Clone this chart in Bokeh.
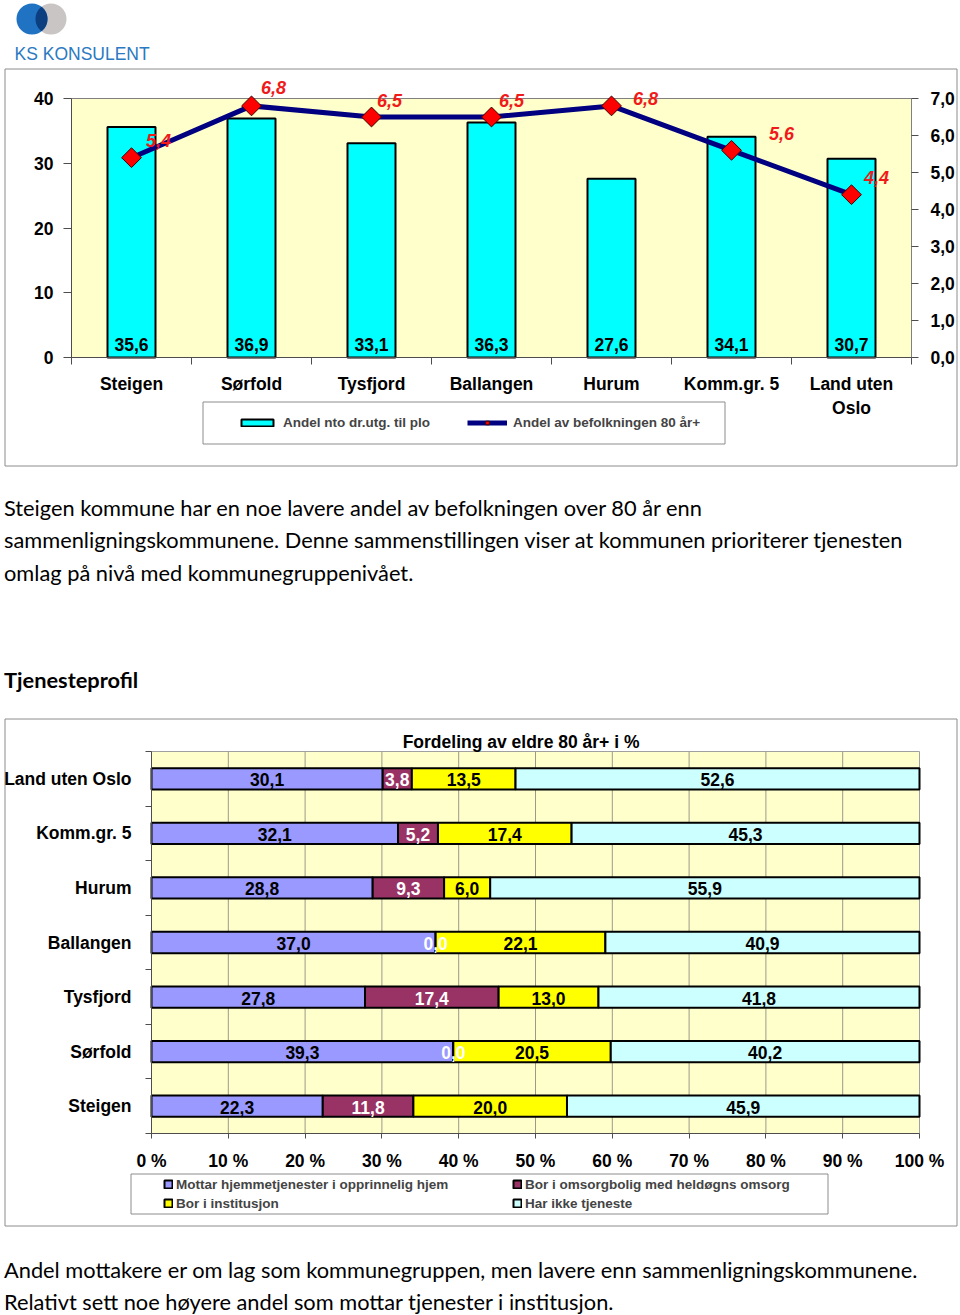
import numpy as np
from bokeh.plotting import figure
from bokeh.models import (ColumnDataSource, Range1d, LinearAxis, FixedTicker, Legend, LegendItem, Div)
from bokeh.layouts import column
from bokeh.embed import file_html
from bokeh.resources import INLINE
from bokeh.core.properties import value

# ---------------- data ----------------
kommuner = ["Steigen", "Sørfold", "Tysfjord", "Ballangen", "Hurum", "Komm.gr. 5", "Land uten Oslo"]
kommune_labels_top = ["Steigen", "Sørfold", "Tysfjord", "Ballangen", "Hurum", "Komm.gr. 5", "Land uten\nOslo"]
andel_plo = [35.6, 36.9, 33.1, 36.3, 27.6, 34.1, 30.7]      # Andel nto dr.utg. til plo
andel_80 = [5.4, 6.8, 6.5, 6.5, 6.8, 5.6, 4.4]              # Andel av befolkningen 80 år+
left_ticks = [0, 10, 20, 30, 40]
right_ticks = [0, 1, 2, 3, 4, 5, 6, 7]

hjem = [22.3, 39.3, 27.8, 37.0, 28.8, 32.1, 30.1]      # Mottar hjemmetjenester i opprinnelig hjem
omsorg = [11.8, 0.0, 17.4, 0.0, 9.3, 5.2, 3.8]         # Bor i omsorgbolig med heldøgns omsorg
inst = [20.0, 20.5, 13.0, 22.1, 6.0, 17.4, 13.5]       # Bor i institusjon
ingen = [45.9, 40.2, 41.8, 40.9, 55.9, 45.3, 52.6]     # Har ikke tjeneste
pct_ticks = [0, 10, 20, 30, 40, 50, 60, 70, 80, 90, 100]

series_names = ["Mottar hjemmetjenester i opprinnelig hjem", "Bor i omsorgbolig med heldøgns omsorg",
                "Bor i institusjon", "Har ikke tjeneste"]
legend_order = [0, 2, 1, 3]       # legend is filled column by column
bot_title = "Fordeling av eldre 80 år+  i %"

para1 = ["Steigen kommune har en noe lavere andel av befolkningen over 80 år enn",
         "sammenligningskommunene. Denne sammenstillingen viser at kommunen prioriterer tjenesten",
         "omlag på nivå med kommunegruppenivået."]
heading = "Tjenesteprofil"
para2 = ["Andel mottakere er om lag som kommunegruppen, men lavere enn sammenligningskommunene.",
         "Relativt sett noe høyere andel som mottar tjenester i institusjon."]

# ---------------- styles ----------------
FONT = "Liberation Sans"
FS = "17.5px"
W = 960
YELLOW_BG = "#FFFFCC"
BOX_GRAY = "#8c8c8c"
AX_COL = "#4d4d4d"
seg_colors = ["#9999FF", "#993366", "#FFFF00", "#CCFFFF"]
seg_text_colors = ["black", "white", "black", "black"]
lbl_dx = [27, 22, 18, 20, 34, 50, 25]
lbl_dy = [-17, -18, -17, -17, -7, -17, -17]

n = len(kommuner)
pos = np.arange(n) + 0.5          # slot centres on the category axis
bounds = list(range(n + 1))       # slot boundaries (tick marks)


def fmt(v):
    return f"{v:.1f}".replace(".", ",")


def style_axis(ax, size=FS):
    ax.major_label_text_font = FONT
    ax.major_label_text_font_style = "bold"
    ax.major_label_text_font_size = size
    ax.major_label_text_color = "black"
    ax.axis_line_color = AX_COL
    ax.major_tick_line_color = AX_COL
    ax.minor_tick_line_color = None
    ax.major_tick_in = 0


def span(p0, p1, v0, v1, size):
    """data range that maps pixel p0->v0, p1->v1 over a canvas of `size` px."""
    k = (v1 - v0) / (p1 - p0)
    return v0 - p0 * k, v0 + (size - p0) * k


def full_frame_fig(w, h, xr, yr):
    f = figure(width=w, height=h, x_range=Range1d(*xr), y_range=Range1d(*yr),
               toolbar_location=None, output_backend="svg", x_axis_location=None,
               y_axis_location=None, min_border=0, frame_align=False)
    f.grid.visible = False
    f.outline_line_color = None
    f.background_fill_color = None
    f.border_fill_color = None
    f.extra_x_ranges = {"px": Range1d(0, w)}
    f.extra_y_ranges = {"py": Range1d(h, 0)}
    return f


def deco_box(f, l, r_, t, b, **kw):
    f.quad(left=[l], right=[r_], top=[t], bottom=[b], x_range_name="px", y_range_name="py", **kw)


# ---------------- logo (66 px) ----------------
LH = 66
logo = full_frame_fig(W, LH, (0, W), (0, LH))
c1x, c2x, cy, r = 31.5, 50.5, LH - 18.5, 15.5
logo.circle(x=[c2x], y=[cy], radius=r, fill_color="#c9c5c4", line_color=None)
logo.circle(x=[c1x], y=[cy], radius=r, fill_color="#1f73c2", line_color=None)
a = np.arccos(((c2x - c1x) / 2) / r)
t1 = np.linspace(-a, a, 40)
t2 = np.linspace(np.pi - a, np.pi + a, 40)
lx = np.concatenate([c1x + r * np.cos(t1), c2x + r * np.cos(t2)])
ly = np.concatenate([cy + r * np.sin(t1), cy + r * np.sin(t2)])
logo.patch(lx, ly, fill_color="#0b3f80", line_color=None)
logo.text(x=[14], y=[LH - 53], text=["KS KONSULENT"], text_baseline="middle", text_align="left",
          text_font=value("Liberation Sans"), text_font_size="17.5px", text_color="#2b79c2")

# ---------------- top chart (page y 66..470) ----------------
TH = 404
xr_top = span(71, 911, 0, n, W)
yr_top = span(TH - 291, TH - 32, 0, left_ticks[-1], TH)
yr_r = span(TH - 291, TH - 32, 0, right_ticks[-1], TH)
top = full_frame_fig(W, TH, xr_top, yr_top)
top.extra_y_ranges["r"] = Range1d(*yr_r)

deco_box(top, 4.5, 956.5, 2.5, 399.5, fill_color=None, line_color=BOX_GRAY, line_width=1)
deco_box(top, 202.5, 724.5, 335.5, 377.5, fill_color="white", line_color=BOX_GRAY, line_width=1)
top.quad(left=[0], right=[n], bottom=[left_ticks[0]], top=[left_ticks[-1]],
         fill_color=YELLOW_BG, line_color="#808080", line_width=1)

ax_l = LinearAxis(ticker=FixedTicker(ticks=left_ticks), fixed_location=0,
                  bounds=(left_ticks[0], left_ticks[-1]))
style_axis(ax_l)
ax_l.major_tick_out = 8
ax_l.major_label_standoff = 10
top.add_layout(ax_l, "left")

ax_r = LinearAxis(y_range_name="r", ticker=FixedTicker(ticks=right_ticks), fixed_location=n,
                  bounds=(right_ticks[0], right_ticks[-1]),
                  major_label_overrides={t: fmt(t) for t in right_ticks})
style_axis(ax_r)
ax_r.axis_line_color = "#808080"
ax_r.major_tick_out = 7
ax_r.major_label_standoff = 12
top.add_layout(ax_r, "right")

ax_bt = LinearAxis(ticker=FixedTicker(ticks=bounds), fixed_location=0, bounds=(0, n),
                   major_label_overrides={t: "" for t in bounds})
style_axis(ax_bt, "1px")
ax_bt.major_tick_out = 7
ax_bt.major_label_standoff = 0
top.add_layout(ax_bt, "below")

ax_bc = LinearAxis(ticker=FixedTicker(ticks=list(pos)), fixed_location=0,
                   major_label_overrides={float(x): t for x, t in zip(pos, kommune_labels_top)})
style_axis(ax_bc)
ax_bc.axis_line_color = None
ax_bc.major_tick_line_color = None
ax_bc.major_tick_out = 0
ax_bc.major_label_standoff = 16
top.add_layout(ax_bc, "below")

src_top = ColumnDataSource(dict(x=pos, plo=andel_plo, a80=andel_80,
                                plo_txt=[fmt(v) for v in andel_plo],
                                a80_txt=[fmt(v) for v in andel_80],
                                dx=lbl_dx, dy=lbl_dy))

bars = top.vbar(x="x", top="plo", width=0.4, source=src_top, fill_color="#00FFFF",
                line_color="black", line_width=2)
top.text(x="x", y=0, text="plo_txt", source=src_top, text_align="center",
         text_baseline="alphabetic", y_offset=-13, text_font=value(FONT),
         text_font_style="bold", text_font_size=FS, text_color="black")
ln = top.line(x="x", y="a80", y_range_name="r", source=src_top, line_color="#000080", line_width=5)
mk = top.scatter(x="x", y="a80", y_range_name="r", source=src_top, marker="square", size=14,
                 angle=np.pi / 4, fill_color="#FF0000", line_color="#400000", line_width=1)
top.text(x="x", y="a80", y_range_name="r", text="a80_txt", source=src_top, x_offset="dx",
         y_offset="dy", text_align="center", text_baseline="middle", text_font=value(FONT),
         text_font_style="bold italic", text_font_size="18px", text_color="#f01a1a")

leg_top = Legend(items=[LegendItem(label="Andel nto dr.utg. til plo", renderers=[bars]),
                        LegendItem(label="Andel av befolkningen 80 år+", renderers=[ln, mk])],
                 orientation="horizontal", location=(237, TH - 366), glyph_width=40,
                 glyph_height=9, label_standoff=6, spacing=37, padding=0, margin=0,
                 border_line_color=None, background_fill_alpha=0, label_text_font=FONT,
                 label_text_font_style="bold", label_text_font_size="13.5px", label_height=20)
top.add_layout(leg_top, "center")

# ---------------- text 1 ----------------
P_STYLE = ("font-family:Lato, sans-serif; font-size:21.8px; line-height:32.7px; color:#000;"
           " margin:0; padding-left:4px; white-space:nowrap;")
txt1 = Div(text=(f'<div style="{P_STYLE} padding-top:21.6px;">' + "<br>".join(para1) + "</div>"
                 f'<div style="{P_STYLE} font-weight:bold; margin-top:74px;">{heading}</div>'),
           width=W, height=242, margin=0)

# ---------------- bottom chart (page y 712..1232) ----------------
BH = 520
xr_bot = span(151, 919, 0, 100, W)
yr_bot = span(BH - 421, BH - 39, 0, n, BH)
bot = full_frame_fig(W, BH, xr_bot, yr_bot)

deco_box(bot, 4.5, 956.5, 6.5, 513.5, fill_color=None, line_color=BOX_GRAY, line_width=1)
deco_box(bot, 130.5, 827.5, 461.5, 501.5, fill_color="white", line_color=BOX_GRAY, line_width=1)
bot.quad(left=[0], right=[100], bottom=[0], top=[n], fill_color=YELLOW_BG,
         line_color="#a0a0a0", line_width=1)
grid_x = pct_ticks[1:-1]
bot.segment(x0=grid_x, y0=[0] * len(grid_x), x1=grid_x, y1=[n] * len(grid_x),
            line_color="#9a9a8a", line_width=1)

bot.text(x=[523], y=[29], text=[bot_title], x_range_name="px", y_range_name="py",
         text_align="center", text_baseline="middle", text_font=value(FONT),
         text_font_style="bold", text_font_size=FS, text_color="black")

ax_x = LinearAxis(ticker=FixedTicker(ticks=pct_ticks), fixed_location=0, bounds=(0, 100),
                  major_label_overrides={t: f"{t} %" for t in pct_ticks})
style_axis(ax_x)
ax_x.major_tick_out = 5
ax_x.major_label_standoff = 12
bot.add_layout(ax_x, "below")

ax_yb = LinearAxis(ticker=FixedTicker(ticks=bounds), fixed_location=0, bounds=(0, n),
                   major_label_overrides={t: "" for t in bounds})
style_axis(ax_yb, "1px")
ax_yb.major_tick_out = 6
ax_yb.major_label_standoff = 0
bot.add_layout(ax_yb, "left")

ax_yc = LinearAxis(ticker=FixedTicker(ticks=list(pos)), fixed_location=0,
                   major_label_overrides={float(y): t for y, t in zip(pos, kommuner)})
style_axis(ax_yc)
ax_yc.axis_line_color = None
ax_yc.major_tick_line_color = None
ax_yc.major_tick_out = 0
ax_yc.major_label_standoff = 20
bot.add_layout(ax_yc, "left")

series = [hjem, omsorg, inst, ingen]
keys = ["hjem", "omsorg", "inst", "ingen"]
data = {"y": pos}
for key, s in zip(keys, series):
    data[key] = s
src_bot = ColumnDataSource(data)

stack = bot.hbar_stack(keys, y="y", height=0.39, source=src_bot, fill_color=seg_colors,
                       line_color="black", line_width=2)

arr = np.array(series)
cum = np.cumsum(arr, axis=0)
mids = cum - arr / 2
for i in range(len(series)):
    s_src = ColumnDataSource(dict(y=pos, x=mids[i], t=[fmt(v) for v in series[i]]))
    bot.text(x="x", y="y", text="t", source=s_src, text_align="center", text_baseline="middle",
             y_offset=1, text_font=value(FONT), text_font_style="bold", text_font_size=FS,
             text_color=seg_text_colors[i])

leg_bot = Legend(items=[LegendItem(label=series_names[i], renderers=[stack[i]]) for i in legend_order],
                 ncols=2, location=(163, BH - 500.5), glyph_width=10, glyph_height=10,
                 label_standoff=3, spacing=0, padding=0, margin=0, border_line_color=None,
                 background_fill_alpha=0, label_text_font=FONT, label_text_font_style="bold",
                 label_text_font_size="13.5px", label_height=19, label_width=336)
bot.add_layout(leg_bot, "center")

# ---------------- text 2 ----------------
txt2 = Div(text=f'<div style="{P_STYLE} padding-top:21.6px;">' + "<br>".join(para2) + "</div>",
           width=W, height=83, margin=0)

layout = column(logo, top, txt1, bot, txt2, spacing=0)
p = layout
open("out.html", "w").write(file_html(p, INLINE))
